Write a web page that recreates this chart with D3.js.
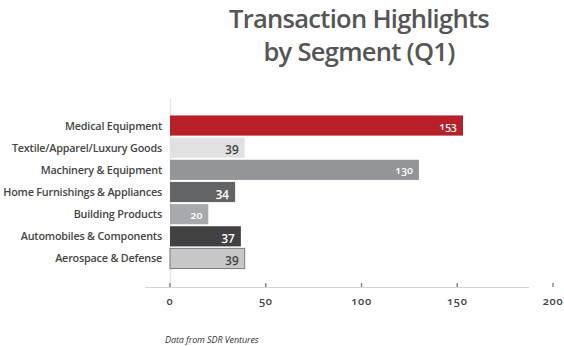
<!DOCTYPE html>
<html>
<head>
<meta charset="utf-8">
<script src="https://cdn.jsdelivr.net/npm/d3@7"></script>
<style>
  html, body { margin: 0; padding: 0; background: #fff; }
  svg { display: block; font-family: "Open Sans", sans-serif; }
  .num { font-variant-numeric: oldstyle-nums; font-feature-settings: "onum" 1; }
</style>
</head>
<body>
<svg id="chart" width="564" height="346"></svg>
<script>
// Segments, top to bottom
const categories = [
  "Medical Equipment",
  "Textile/Apparel/Luxury Goods",
  "Machinery & Equipment",
  "Home Furnishings & Appliances",
  "Building Products",
  "Automobiles & Components",
  "Aerospace & Defense"
];
// Number of transactions per segment
const values = [153, 39, 130, 34, 20, 37, 39];
const barColors = ["#b71f29", "#e1e1e3", "#939598", "#636466", "#a7a9ac", "#414143", "#c6c7c9"];
const labelColors = ["#fff", "#444", "#fff", "#fff", "#fff", "#fff", "#444"];
const xTicks = [0, 50, 100, 150, 200];
const titleLines = ["Transaction Highlights", "by Segment (Q1)"];
const source = "Data from SDR Ventures";

const svg = d3.select("#chart");

const x = d3.scaleLinear().domain([0, 200]).range([170, 553]);
const y = d3.scaleBand().domain(categories).range([115, 269]).paddingInner(0.09).paddingOuter(0.02);

// Title
svg.append("g").selectAll("text").data(titleLines).join("text")
  .attr("x", 359)
  .attr("y", (d, i) => 28 + i * 33)
  .attr("text-anchor", "middle")
  .attr("font-size", 25.5)
  .attr("font-weight", 600)
  .attr("fill", "#555")
  .attr("letter-spacing", -0.7)
  .text(d => d);

// Baseline axis and the vertical zero line
svg.append("line")
  .attr("x1", 145).attr("x2", 529)
  .attr("y1", 287.5).attr("y2", 287.5)
  .attr("stroke", "#d4d4d4").attr("stroke-width", 1);
svg.append("line")
  .attr("x1", x(0) + 0.5).attr("x2", x(0) + 0.5)
  .attr("y1", 98).attr("y2", 287)
  .attr("stroke", "#e4e4e4").attr("stroke-width", 1.5);

// Ticks
const ticks = svg.append("g").selectAll("g").data(xTicks).join("g")
  .attr("transform", d => `translate(${x(d)},0)`);
ticks.append("line")
  .attr("y1", 283).attr("y2", 287)
  .attr("stroke", "#888").attr("stroke-width", 1.5);
ticks.append("text")
  .attr("class", "num")
  .attr("y", 304.5)
  .attr("text-anchor", "middle")
  .attr("font-size", 11)
  .attr("font-weight", 600)
  .attr("fill", "#444")
  .attr("letter-spacing", 0.6)
  .text(d => d);

// Bars
const rows = svg.append("g").selectAll("g").data(categories).join("g");
rows.append("rect")
  .attr("x", x(0))
  .attr("y", d => y(d))
  .attr("width", (d, i) => x(values[i]) - x(0))
  .attr("height", y.bandwidth())
  .attr("fill", (d, i) => barColors[i])
  .attr("stroke", (d, i) => i === 6 ? "#7a7a7c" : "none")
  .attr("stroke-width", 1);

// Category labels
rows.append("text")
  .attr("x", 162)
  .attr("y", d => y(d) + y.bandwidth() / 2 + 4)
  .attr("text-anchor", "end")
  .attr("font-size", 10.8)
  .attr("font-weight", 600)
  .attr("fill", "#444")
  .attr("letter-spacing", -0.2)
  .text(d => d);

// Value labels inside bar ends
rows.append("text")
  .attr("class", "num")
  .attr("x", (d, i) => x(values[i]) - 6)
  .attr("y", d => y(d) + y.bandwidth() / 2 + 4.5)
  .attr("text-anchor", "end")
  .attr("font-size", (d, i) => values[i] >= 100 || values[i] === 20 ? 10.5 : 12)
  .attr("font-weight", 600)
  .attr("fill", (d, i) => labelColors[i])
  .text((d, i) => values[i]);

// Source note
svg.append("text")
  .attr("x", 165)
  .attr("y", 343)
  .attr("font-size", 9)
  .attr("font-style", "italic")
  .attr("fill", "#333")
  .attr("letter-spacing", -0.1)
  .text(source);
</script>
</body>
</html>
